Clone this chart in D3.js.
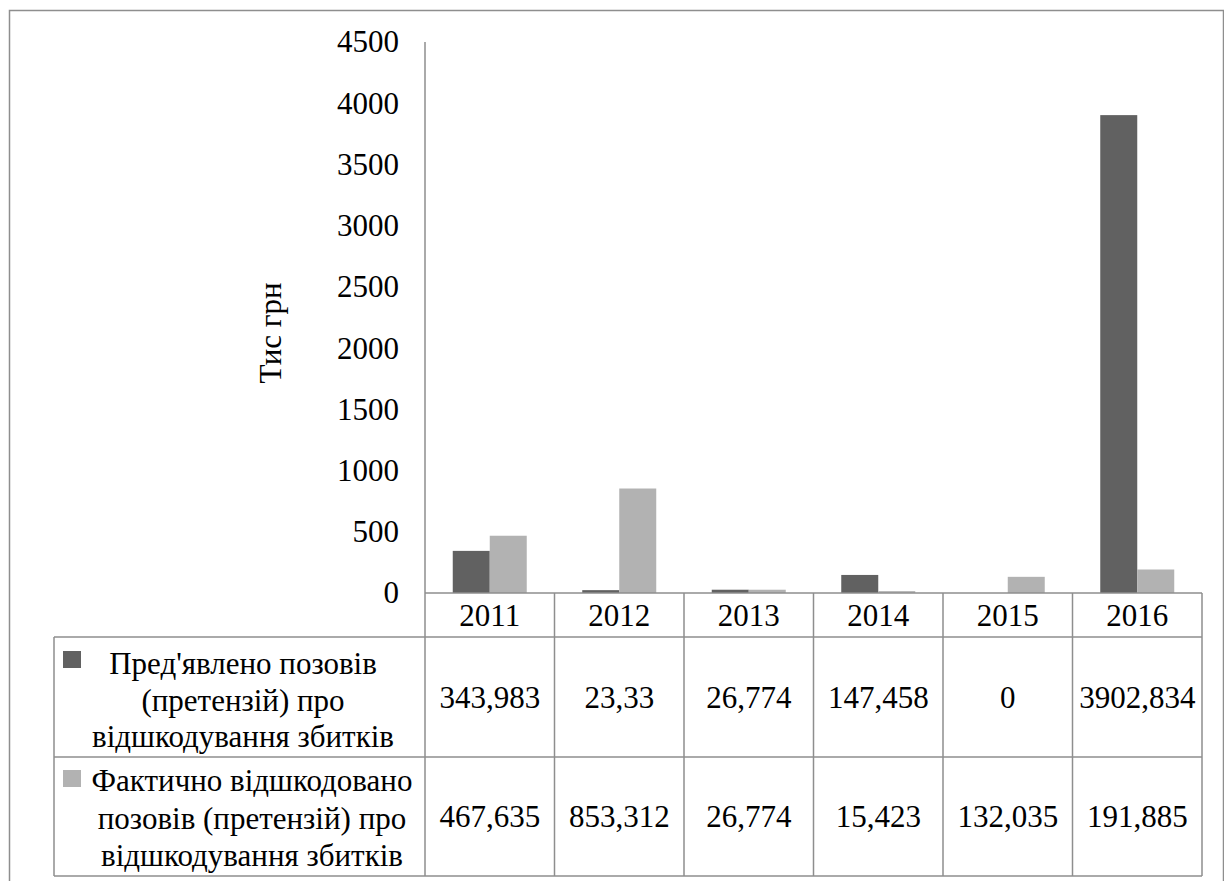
<!DOCTYPE html>
<html>
<head>
<meta charset="utf-8">
<script src="https://cdn.jsdelivr.net/npm/d3@7"></script>
<style>
  html, body { margin: 0; padding: 0; background: #fff; }
  svg { display: block; }
</style>
</head>
<body>
<svg id="chart" width="1224" height="881"></svg>
<script>
// Claims for damages (thousand UAH) by year
const years = ["2011", "2012", "2013", "2014", "2015", "2016"];
const presented = [343.983, 23.33, 26.774, 147.458, 0, 3902.834];
const compensated = [467.635, 853.312, 26.774, 15.423, 132.035, 191.885];
const yTicks = [0, 500, 1000, 1500, 2000, 2500, 3000, 3500, 4000, 4500];
const seriesNames = [
  ["Пред'явлено позовів", "(претензій) про", "відшкодування збитків"],
  ["Фактично відшкодовано", "позовів (претензій) про", "відшкодування збитків"]
];
const yTitle = "Тис грн";

const colors = ["#616161", "#b2b2b2"];
const lineColor = "#8e8e8e";
const fontFamily = "Liberation Serif";
const fontSize = 31;

const svg = d3.select("#chart");

// apply the serif face to every text node
const styleText = sel => sel
  .attr("font-family", fontFamily)
  .attr("font-size", fontSize)
  .attr("fill", "#000");

// outer frame
svg.append("rect")
  .attr("x", 9.5).attr("y", 10.5)
  .attr("width", 1214).attr("height", 890)
  .attr("fill", "none").attr("stroke", lineColor).attr("stroke-width", 1.5);

const plot = { left: 425, right: 1202, top: 42, bottom: 593 };
const table = { left: 54, catBottom: 637, row1Bottom: 757, row2Bottom: 876 };

const x = d3.scaleBand().domain(years).range([plot.left, plot.right]);
const y = d3.scaleLinear().domain([0, 4500]).range([plot.bottom, plot.top]);

// bars: gap width 150% of bar width
const barW = x.bandwidth() / 3.5;
const series = [presented, compensated];
series.forEach((vals, si) => {
  svg.append("g").selectAll("rect")
    .data(vals.map((v, i) => ({ year: years[i], v })))
    .join("rect")
    .attr("x", d => x(d.year) + x.bandwidth() / 2 - barW + si * barW)
    .attr("y", d => y(d.v))
    .attr("width", barW)
    .attr("height", d => y(0) - y(d.v))
    .attr("fill", colors[si]);
});

// y axis
const yAxis = d3.axisLeft(y).tickValues(yTicks).tickSize(0).tickPadding(26).tickFormat(d3.format("d"));
const gy = svg.append("g").attr("transform", `translate(${plot.left},0)`).call(yAxis);
gy.select(".domain").remove();
gy.attr("font-family", fontFamily).attr("font-size", fontSize);
gy.selectAll("text").call(styleText);

svg.append("text")
  .attr("transform", "translate(281,333) rotate(-90)")
  .attr("text-anchor", "middle")
  .call(styleText)
  .text(yTitle);

// lines of the axis and data table
const lines = svg.append("g").attr("stroke", lineColor).attr("stroke-width", 1.5).attr("fill", "none");
const hl = (x1, x2, yy) => lines.append("line").attr("x1", x1).attr("x2", x2).attr("y1", yy).attr("y2", yy);
const vl = (xx, y1, y2) => lines.append("line").attr("x1", xx).attr("x2", xx).attr("y1", y1).attr("y2", y2);

vl(plot.left, plot.top, table.row2Bottom);
hl(plot.left, plot.right, y(0));
hl(table.left, plot.right, table.catBottom);
hl(table.left, plot.right, table.row1Bottom);
hl(table.left, plot.right, table.row2Bottom);
vl(table.left, table.catBottom, table.row2Bottom);
years.forEach(yr => vl(x(yr) + x.bandwidth(), y(0), table.row2Bottom));

// category labels
svg.append("g").selectAll("text")
  .data(years).join("text")
  .attr("x", d => x(d) + x.bandwidth() / 2)
  .attr("y", 615)
  .attr("dy", "0.35em")
  .attr("text-anchor", "middle")
  .call(styleText)
  .text(d => d);

// table values
const fmt = v => String(v).replace(".", ",");
const rowCenters = [697, 816];
series.forEach((vals, si) => {
  svg.append("g").selectAll("text")
    .data(vals.map((v, i) => ({ year: years[i], v })))
    .join("text")
    .attr("x", d => x(d.year) + x.bandwidth() / 2)
    .attr("y", rowCenters[si])
    .attr("dy", "0.35em")
    .attr("text-anchor", "middle")
    .call(styleText)
    .text(d => fmt(d.v));
});

// row headers with legend keys
const headerCenters = [243, 252];
const headerLineY = [[663, 700, 736], [780, 818, 855]];
const keyY = [651, 770];
seriesNames.forEach((lines3, si) => {
  svg.append("rect")
    .attr("x", 63).attr("y", keyY[si])
    .attr("width", 18).attr("height", 17)
    .attr("fill", colors[si]);
  svg.append("g").selectAll("text")
    .data(lines3).join("text")
    .attr("x", headerCenters[si])
    .attr("y", (d, i) => headerLineY[si][i])
    .attr("dy", "0.35em")
    .attr("text-anchor", "middle")
    .call(styleText)
    .text(d => d);
});
</script>
</body>
</html>
